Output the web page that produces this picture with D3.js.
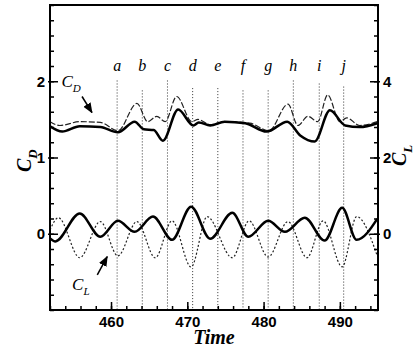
<!DOCTYPE html>
<html>
<head>
<meta charset="utf-8">
<script src="https://cdn.jsdelivr.net/npm/d3@7"></script>
<style>
  body { margin: 0; background: #fff; }
  .tick text { font-family: "Liberation Sans", Arial, sans-serif; font-weight: bold; font-size: 15px; }
</style>
</head>
<body>
<svg id="chart" width="419" height="352"></svg>
<script>
// time samples and values
let cdTime = [452.0, 453.6, 455.9, 458.6, 460.9, 463.1, 464.3, 465.6, 466.8, 468.8, 470.8, 471.5, 473.0, 474.9, 477.6, 480.4, 483.1, 484.8, 486.7, 488.7, 490.7, 492.6, 494.9];
let cdSolid = [1.41, 1.34, 1.41, 1.40, 1.33, 1.47, 1.37, 1.36, 1.22, 1.63, 1.42, 1.46, 1.42, 1.47, 1.45, 1.34, 1.47, 1.29, 1.21, 1.62, 1.42, 1.40, 1.45];

let cdDashTime = [452.0, 453.3, 455.9, 458.6, 460.9, 463.4, 464.8, 466.0, 467.1, 468.6, 470.6, 471.4, 473.0, 475.0, 478.2, 480.7, 483.2, 484.5, 485.8, 487.1, 488.4, 490.0, 490.9, 492.6, 494.9];
let cdDash = [1.47, 1.42, 1.47, 1.46, 1.35, 1.71, 1.47, 1.54, 1.47, 1.80, 1.47, 1.50, 1.43, 1.47, 1.45, 1.35, 1.70, 1.42, 1.54, 1.47, 1.82, 1.47, 1.52, 1.42, 1.47];

let clTime = [452.0, 452.7, 455.9, 458.6, 460.9, 463.1, 465.5, 468.0, 470.5, 473.0, 475.9, 478.0, 480.6, 482.8, 485.4, 488.0, 490.3, 492.2, 494.9];
let clSolid = [-0.12, -0.20, 0.53, -0.08, 0.34, 0.05, 0.45, -0.16, 0.71, -0.13, 0.55, -0.08, 0.34, 0.05, 0.42, -0.18, 0.68, -0.16, 0.39];

let clDotTime = [452.0, 453.1, 455.9, 458.6, 460.9, 463.4, 465.8, 468.0, 470.5, 472.6, 475.9, 478.1, 480.6, 483.2, 485.7, 487.8, 490.3, 492.2, 494.9];
let clDot = [0.10, 0.42, -0.63, 0.32, -0.58, 0.32, -0.63, 0.34, -0.87, 0.45, -0.63, 0.34, -0.61, 0.32, -0.63, 0.34, -0.87, 0.45, -0.58];

// marker lines a..j
let markNames = ["a", "b", "c", "d", "e", "f", "g", "h", "i", "j"];
let markTime = [460.8, 464.1, 467.4, 470.7, 474.0, 477.3, 480.6, 483.9, 487.3, 490.5];
let markTop = [2.01, 1.88, 2.01, 1.91, 1.91, 1.88, 1.88, 2.01, 1.97, 1.93];

let xTicks = [460, 470, 480, 490];
let leftTicks = [0, 1, 2];
let rightTicks = [0, 2, 4];

let svg = d3.select("#chart");
let pLeft = 50, pRight = 378, pTop = 5, pBottom = 310;

let x = d3.scaleLinear().domain([452, 495]).range([pLeft, pRight]);
let yL = d3.scaleLinear().domain([-1, 3]).range([pBottom, pTop]);
let yR = d3.scaleLinear().domain([-2, 6]).range([pBottom, pTop]);

let serif = "'Liberation Serif', 'Times New Roman', serif";

// vertical dotted markers
let marks = svg.append("g");
markTime.forEach(function(t, i) {
    marks.append("line")
        .attr("x1", x(t)).attr("x2", x(t))
        .attr("y1", yL(markTop[i])).attr("y2", yL(-1))
        .attr("stroke", "#333").attr("stroke-width", 1)
        .attr("stroke-dasharray", "1,2");
    marks.append("text")
        .attr("x", x(t)).attr("y", yL(2.14))
        .attr("text-anchor", "middle")
        .style("font-family", serif).style("font-style", "italic")
        .style("font-size", "16px")
        .text(markNames[i]);
});

// curves
function drawLine(ts, vs, scaleY, width, dash, color) {
    let line = d3.line()
        .x(function(d, i) { return x(ts[i]); })
        .y(function(d) { return scaleY(d); })
        .curve(d3.curveMonotoneX);
    svg.append("path")
        .datum(vs)
        .attr("d", line)
        .attr("fill", "none")
        .attr("stroke", color)
        .attr("stroke-width", width)
        .attr("stroke-dasharray", dash);
}

drawLine(cdDashTime, cdDash, yL, 1.2, "6,2", "#222");
drawLine(clDotTime, clDot, yR, 1.2, "2,2", "#222");
drawLine(cdTime, cdSolid, yL, 2.5, null, "#000");
drawLine(clTime, clSolid, yR, 2.5, null, "#000");

// axes (ticks inward)
function minorTicks(a, b, step) {
    let out = [];
    for (let v = a; v <= b + 1e-9; v += step) out.push(+v.toFixed(2));
    return out;
}

function noDomain(g) { g.select(".domain").remove(); }

svg.append("g").attr("transform", "translate(0," + pBottom + ")")
    .call(d3.axisTop(x).tickValues(minorTicks(452, 494, 2)).tickSize(4).tickFormat(""))
    .call(noDomain);
svg.append("g").attr("transform", "translate(0," + pBottom + ")")
    .call(d3.axisTop(x).tickValues(xTicks).tickSize(8).tickFormat(""))
    .call(noDomain);
svg.append("g").attr("transform", "translate(0," + pBottom + ")")
    .call(d3.axisBottom(x).tickValues(xTicks).tickSize(0).tickPadding(6).tickFormat(d3.format("d")))
    .call(noDomain);

svg.append("g").attr("transform", "translate(" + pLeft + ",0)")
    .call(d3.axisRight(yL).tickValues(minorTicks(-1, 3, 0.2)).tickSize(4).tickFormat(""))
    .call(noDomain);
svg.append("g").attr("transform", "translate(" + pLeft + ",0)")
    .call(d3.axisRight(yL).tickValues(leftTicks).tickSize(8).tickFormat(""))
    .call(noDomain);
svg.append("g").attr("transform", "translate(" + pLeft + ",0)")
    .call(d3.axisLeft(yL).tickValues(leftTicks).tickSize(2).tickPadding(3).tickFormat(d3.format("d")))
    .call(noDomain);

svg.append("g").attr("transform", "translate(" + pRight + ",0)")
    .call(d3.axisLeft(yR).tickValues(minorTicks(-2, 6, 0.4)).tickSize(4).tickFormat(""))
    .call(noDomain);
svg.append("g").attr("transform", "translate(" + pRight + ",0)")
    .call(d3.axisLeft(yR).tickValues(rightTicks).tickSize(8).tickFormat(""))
    .call(noDomain);
svg.append("g").attr("transform", "translate(" + pRight + ",0)")
    .call(d3.axisRight(yR).tickValues(rightTicks).tickSize(2).tickPadding(3).tickFormat(d3.format("d")))
    .call(noDomain);

svg.selectAll(".tick line").attr("stroke", "#000").attr("stroke-width", 1.5);

// frame
svg.append("rect")
    .attr("x", pLeft).attr("y", pTop)
    .attr("width", pRight - pLeft).attr("height", pBottom - pTop)
    .attr("fill", "none").attr("stroke", "#000").attr("stroke-width", 2);

// axis titles
function subLabel(g, main, sub, size) {
    let t = g.append("text")
        .style("font-family", serif).style("font-style", "italic")
        .style("font-weight", "bold").style("font-size", size + "px");
    t.append("tspan").text(main);
    t.append("tspan").attr("dy", size * 0.3).style("font-size", (size * 0.65) + "px").text(sub);
    return t;
}

subLabel(svg.append("g").attr("transform", "translate(31,172) rotate(-90)"), "C", "D", 20);
subLabel(svg.append("g").attr("transform", "translate(406,166) rotate(-90)"), "C", "L", 20);

svg.append("text")
    .attr("x", (pLeft + pRight) / 2).attr("y", 344)
    .attr("text-anchor", "middle")
    .style("font-family", serif).style("font-style", "italic")
    .style("font-weight", "bold").style("font-size", "20px")
    .text("Time");

// in-plot annotations with arrows
svg.append("defs").append("marker")
    .attr("id", "head").attr("viewBox", "0 0 10 10")
    .attr("refX", 9).attr("refY", 5)
    .attr("markerWidth", 7).attr("markerHeight", 7)
    .attr("orient", "auto")
    .append("path").attr("d", "M0,1 L10,5 L0,9 Z").attr("fill", "#000");

let cdLab = subLabel(svg.append("g").attr("transform", "translate(" + x(453.5) + "," + yL(1.93) + ")"), "C", "D", 17);
cdLab.style("font-weight", "normal");
svg.append("line")
    .attr("x1", x(456.2)).attr("y1", yL(1.80))
    .attr("x2", x(457.5)).attr("y2", yL(1.59))
    .attr("stroke", "#000").attr("stroke-width", 1.5)
    .attr("marker-end", "url(#head)");

let clLab = subLabel(svg.append("g").attr("transform", "translate(" + x(454.9) + "," + yL(-0.74) + ")"), "C", "L", 17);
clLab.style("font-weight", "normal");
svg.append("line")
    .attr("x1", x(458.2)).attr("y1", yL(-0.54))
    .attr("x2", x(459.5)).attr("y2", yL(-0.30))
    .attr("stroke", "#000").attr("stroke-width", 1.5)
    .attr("marker-end", "url(#head)");
</script>
</body>
</html>
